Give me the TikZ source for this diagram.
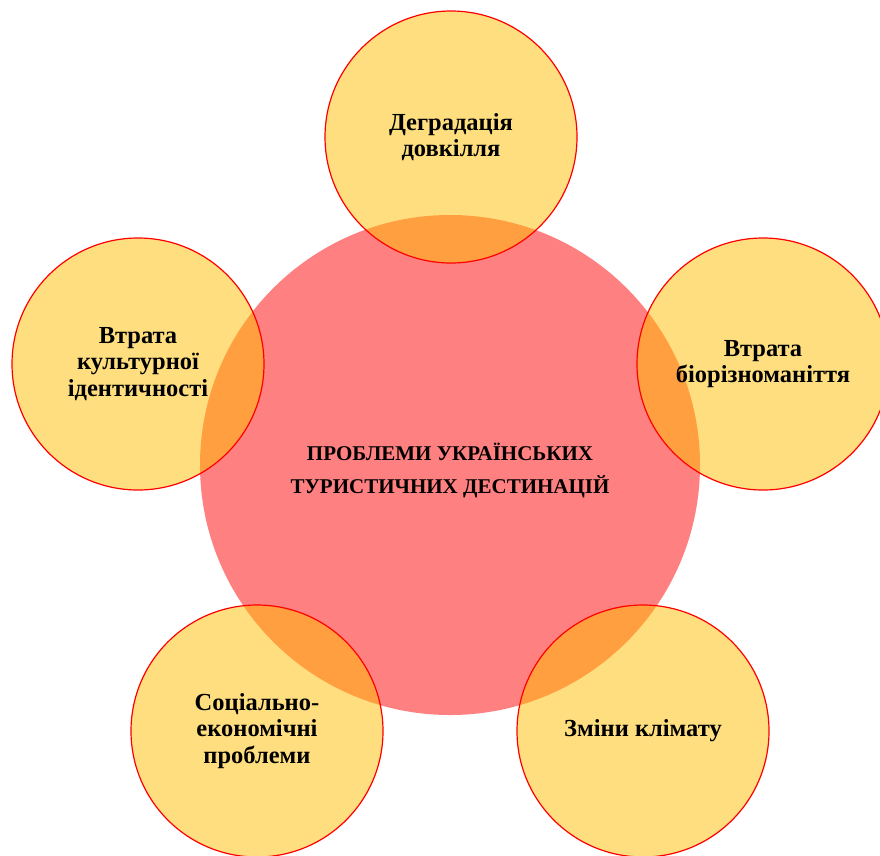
\documentclass[tikz,border=0pt]{standalone}
\usepackage{fontspec}
\setmainfont{Liberation Serif}
\definecolor{hubred}{RGB}{255,128,128}
\definecolor{petal}{RGB}{255,190,0}
\tikzset{
    hub/.style={circle, fill=hubred, minimum size=500pt, inner sep=0pt},
    issue/.style={circle, draw=red, line width=1.2pt, fill=petal, fill opacity=0.5,
        text opacity=1, minimum size=252pt, inner sep=0pt, align=center,
        font=\fontsize{24.5}{26.5}\selectfont\bfseries},
}
\begin{document}
\begin{tikzpicture}[x=1pt, y=-1pt]
    \useasboundingbox (0,0) rectangle (880,855);
    \node[hub] (hub) at (450,465) {};
    \node[align=center, font=\fontsize{21}{33}\selectfont\bfseries] (title) at (450,470)
        {ПРОБЛЕМИ УКРАЇНСЬКИХ\\ТУРИСТИЧНИХ ДЕСТИНАЦІЙ};

    \node[issue] (env) at (451,137) {Деградація\\довкілля};
    \node[issue] (cult) at (138,364) {Втрата\\культурної\\ідентичності};
    \node[issue] (bio) at (763,364) {Втрата\\біорізноманіття};
    \node[issue] (soc) at (257,731) {Соціально-\\економічні\\проблеми};
    \node[issue] (clim) at (643,731) {Зміни клімату};
\end{tikzpicture}
\end{document}
